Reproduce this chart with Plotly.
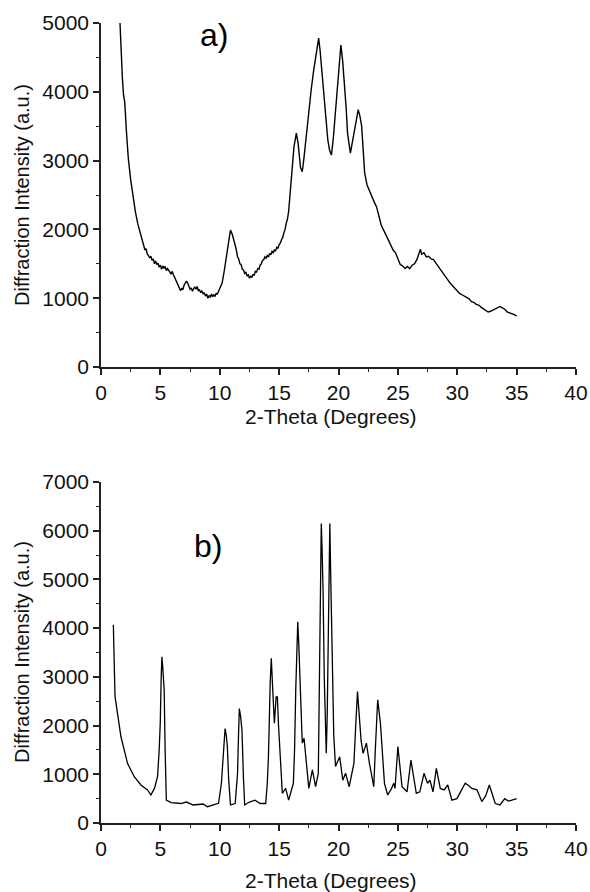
import plotly.graph_objects as go
from plotly.subplots import make_subplots

# ----------------------------- DATA ----------------------------- #
# a) broad, noisy pattern
theta_a = [1.6, 1.7, 1.8, 1.9, 2.0, 2.15, 2.3, 2.5, 2.7, 2.9, 3.1, 3.3,
           3.5, 3.6, 3.7, 3.8, 3.9, 4.0, 4.1, 4.2, 4.3, 4.4, 4.5, 4.6, 4.7, 4.8, 4.9,
           5.0, 5.1, 5.2, 5.3, 5.4, 5.5, 5.6, 5.7, 5.8, 5.9, 6.0, 6.1, 6.2, 6.3, 6.4,
           6.5, 6.6, 6.7, 6.8, 6.9, 7.0, 7.1, 7.2, 7.3, 7.4, 7.5, 7.6, 7.7, 7.8, 7.9,
           8.0, 8.1, 8.2, 8.3, 8.4, 8.5, 8.6, 8.7, 8.8, 8.9, 9.0, 9.1, 9.2, 9.3, 9.4,
           9.5, 9.6, 9.7, 9.8, 9.9, 10.0, 10.2, 10.4, 10.6, 10.8, 10.9, 11.05,
           11.2, 11.3, 11.4, 11.5, 11.6, 11.7, 11.8, 11.9, 12.0, 12.1, 12.2, 12.3, 12.4,
           12.5, 12.6, 12.7, 12.8, 12.9, 13.0, 13.1, 13.2, 13.3, 13.4, 13.5, 13.6, 13.7,
           13.8, 13.9, 14.0, 14.1, 14.2, 14.3, 14.4, 14.5, 14.6, 14.7, 14.8, 14.9, 15.0,
           15.1, 15.2, 15.3, 15.4, 15.5, 15.6, 15.7, 15.8, 15.95, 16.1, 16.25, 16.45,
           16.6, 16.8, 16.95, 17.1, 17.3, 17.5, 17.7, 17.9, 18.05, 18.2, 18.33, 18.45,
           18.56, 18.7, 18.84, 19.0, 19.1, 19.25, 19.4, 19.55, 19.7, 19.83, 20.0, 20.2,
           20.35, 20.5, 20.65, 20.76, 20.9, 21.0, 21.15, 21.3, 21.5, 21.66, 21.8, 21.95,
           22.1, 22.2, 22.4, 22.6, 22.8, 23.0, 23.2, 23.4, 23.6, 23.8, 24.0, 24.2, 24.4,
           24.6, 24.8, 25.0, 25.2, 25.4, 25.6, 25.8, 26.0, 26.2, 26.4, 26.6, 26.8, 26.9,
           27.0, 27.2, 27.4, 27.6, 27.8, 28.0, 28.2, 28.4, 28.6, 28.8, 29.0, 29.2, 29.4,
           29.6, 29.8, 30.0, 30.2, 30.4, 30.6, 30.8, 31.0, 31.2, 31.4, 31.6, 31.8, 32.0,
           32.2, 32.4, 32.6, 32.8, 33.0, 33.2, 33.4, 33.6, 33.8, 34.0, 34.2, 34.4, 34.6,
           34.8, 35.0]
intensity_a = [5000, 4500, 4200, 3950, 3850, 3400, 3030, 2720, 2450, 2250, 2080, 1950,
               1820, 1760, 1700, 1720, 1640, 1620, 1590, 1610, 1550, 1570, 1500, 1540, 1490, 1510, 1450,
               1480, 1420, 1470, 1440, 1460, 1400, 1430, 1410, 1380, 1350, 1390, 1340, 1300, 1270, 1240,
               1190, 1150, 1110, 1140, 1130, 1190, 1220, 1250, 1220, 1170, 1130, 1150, 1100, 1140, 1160,
               1130, 1170, 1110, 1120, 1080, 1110, 1060, 1080, 1030, 1060, 1000, 1040, 1010, 1060, 1020,
               1050, 1030, 1070, 1060, 1100, 1120, 1220, 1420, 1650, 1900, 1990, 1930,
               1850, 1770, 1700, 1600, 1570, 1500, 1490, 1420, 1410, 1360, 1380, 1320, 1340,
               1290, 1320, 1300, 1350, 1330, 1390, 1380, 1430, 1420, 1480, 1500, 1550, 1560,
               1600, 1580, 1620, 1600, 1650, 1630, 1680, 1660, 1700, 1690, 1740, 1720, 1780,
               1800, 1850, 1880, 1950, 2000, 2090, 2150, 2260, 2550, 2900, 3200, 3400,
               3250, 2900, 2840, 3050, 3400, 3700, 4030, 4300, 4470, 4600, 4780, 4600,
               4370, 4150, 3880, 3550, 3300, 3150, 3080, 3300, 3650, 3930, 4300, 4680,
               4450, 4120, 3750, 3400, 3200, 3110, 3250, 3400, 3600, 3740, 3650, 3500,
               3100, 2820, 2650, 2560, 2470, 2400, 2330, 2200, 2060, 1990, 1920, 1860, 1780,
               1700, 1660, 1570, 1490, 1470, 1430, 1460, 1430, 1480, 1500, 1560, 1680, 1710,
               1640, 1660, 1600, 1610, 1570, 1560, 1510, 1460, 1410, 1360, 1310, 1260, 1220,
               1180, 1140, 1110, 1070, 1050, 1030, 1000, 990, 950, 940, 910, 900, 870,
               850, 830, 800, 810, 830, 850, 870, 880, 860, 840, 800, 790, 770,
               760, 740]

# b) sharp, crystalline pattern
theta_b = [1.04, 1.18, 1.68, 2.24, 2.8, 3.36, 3.92, 4.2, 4.5, 4.76, 4.9, 4.99, 5.07, 5.13,
           5.2, 5.27, 5.32, 5.4, 5.5, 5.9, 6.7, 7.2, 7.75, 8.6, 8.96, 9.9, 10.14, 10.3,
           10.45, 10.55, 10.64, 10.75, 10.9, 11.3, 11.5, 11.58, 11.65, 11.75, 11.87, 12.0,
           12.1, 12.5, 12.97, 13.4, 13.87, 14.0, 14.1, 14.25, 14.34, 14.45, 14.6, 14.75,
           14.85, 14.95, 15.07, 15.27, 15.55, 15.8, 16.2, 16.3, 16.4, 16.5, 16.57, 16.65,
           16.75, 16.85, 16.95, 17.1, 17.3, 17.5, 17.8, 18.07, 18.3, 18.4, 18.5, 18.55,
           18.62, 18.7, 18.8, 18.97, 19.05, 19.15, 19.27, 19.35, 19.5, 19.6, 19.75, 20.1,
           20.36, 20.6, 20.9, 21.3, 21.45, 21.6, 21.75, 21.9, 22.07, 22.35, 22.6, 22.97,
           23.1, 23.3, 23.53, 23.7, 23.87, 24.14, 24.45, 24.65, 24.76, 25.0, 25.35, 25.77,
           26.1, 26.55, 26.85, 27.2, 27.5, 27.7, 27.96, 28.24, 28.57, 28.9, 29.2, 29.55,
           29.97, 30.3, 30.67, 31.0, 31.23, 31.66, 32.07, 32.4, 32.7, 33.2, 33.6, 34.0,
           34.3, 34.6, 35.0]
intensity_b = [4070, 2600, 1770, 1220, 950, 780, 680, 575, 710, 950, 1500, 2050, 3000, 3410,
               3200, 2900, 2730, 1500, 470, 420, 400, 430, 370, 390, 335, 405, 815, 1400,
               1940, 1800, 1570, 900, 370, 400, 1020, 1800, 2350, 2200, 1910, 900,
               370, 430, 470, 400, 400, 800, 1360, 2900, 3380, 2800, 2050, 2590,
               2590, 2000, 1360, 610, 710, 470, 815, 1500, 2730, 4000, 4130, 3700,
               3070, 2200, 1640, 1740, 1230, 710, 1090, 745, 1020, 3000, 5800, 6150,
               5600, 4780, 3000, 1430, 2200, 4500, 6150, 5000, 3070, 1800, 1160, 1360,
               880, 1020, 745, 1230, 2000, 2700, 2200, 1700, 1430, 1640, 1230, 745,
               1500, 2530, 2050, 1400, 815, 575, 700, 815, 710, 1570, 745, 640,
               1290, 610, 640, 1020, 815, 880, 640, 1120, 710, 680, 780, 470,
               500, 650, 815, 760, 710, 680, 440, 560, 780, 400, 370, 500,
               450, 470, 500]

x_ticks = [0, 5, 10, 15, 20, 25, 30, 35, 40]
y_ticks_a = [0, 1000, 2000, 3000, 4000, 5000]
y_ticks_b = [0, 1000, 2000, 3000, 4000, 5000, 6000, 7000]
x_title = '2-Theta (Degrees)'
y_title = 'Diffraction Intensity (a.u.)'

# ----------------------------- FIGURE ---------------------------- #
W, H = 590, 892
fnt = 'Liberation Sans, Arial, Helvetica, sans-serif'


def px_x(x):
    return x / W


def px_y(y):
    return 1 - y / H


fig = make_subplots(rows=2, cols=1)
fig.add_trace(go.Scatter(x=theta_a, y=intensity_a, mode='lines',
                         line=dict(color='black', width=1.4)), row=1, col=1)
fig.add_trace(go.Scatter(x=theta_b, y=intensity_b, mode='lines',
                         line=dict(color='black', width=1.3)), row=2, col=1)

x_dom = [px_x(101), px_x(576)]
ax_common = dict(showline=True, linecolor='#222', linewidth=1.5, ticks='outside',
                 ticklen=6, tickwidth=1.5, tickcolor='#222', showgrid=False, zeroline=False,
                 automargin=False, tickfont=dict(family=fnt, size=21, color='#111'))

for i, y_ticks in zip([1, 2], [y_ticks_a, y_ticks_b]):
    fig.update_xaxes(row=i, col=1, range=[0, 40], tickvals=x_ticks, domain=x_dom,
                     minor=dict(dtick=2.5, ticklen=3, tickwidth=1.2, tickcolor='#222', ticks='outside'),
                     **ax_common)
    fig.update_yaxes(row=i, col=1, range=[0, y_ticks[-1]], tickvals=y_ticks,
                     minor=dict(dtick=500, ticklen=3, tickwidth=1.2, tickcolor='#222', ticks='outside'),
                     **ax_common)

fig.update_yaxes(row=1, col=1, domain=[px_y(367), px_y(23)])
fig.update_yaxes(row=2, col=1, domain=[px_y(823), px_y(482)])

# axis titles and panel labels placed in page coordinates
for ypx in [416, 880]:
    fig.add_annotation(text=x_title, x=px_x(331), y=px_y(ypx), xref='paper', yref='paper',
                       xanchor='center', yanchor='middle', showarrow=False,
                       font=dict(family=fnt, size=21, color='#111'))
for ypx in [195, 652]:
    fig.add_annotation(text=y_title, x=px_x(22), y=px_y(ypx), xref='paper', yref='paper',
                       xanchor='center', yanchor='middle', textangle=-90, showarrow=False,
                       font=dict(family=fnt, size=20, color='#111'))

fig.add_annotation(text='a)', x=px_x(214), y=px_y(35), xref='paper', yref='paper',
                   xanchor='center', yanchor='middle', showarrow=False,
                   font=dict(family=fnt, size=32, color='black'))
fig.add_annotation(text='b)', x=px_x(208), y=px_y(546), xref='paper', yref='paper',
                   xanchor='center', yanchor='middle', showarrow=False,
                   font=dict(family=fnt, size=32, color='black'))

fig.update_layout(width=W, height=H, margin=dict(l=0, r=0, t=0, b=0),
                  plot_bgcolor='white', paper_bgcolor='white', showlegend=False)

# drop the default 8px page margin so the figure fills the window exactly
fig.write_html('out.html', config={'displayModeBar': False},
               post_script="document.body.style.margin='0';")
